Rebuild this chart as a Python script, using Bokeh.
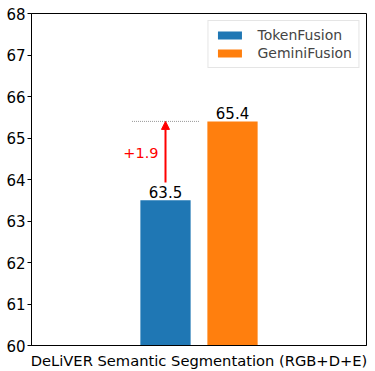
from bokeh.plotting import figure
from bokeh.models import (Range1d, FixedTicker, Arrow, NormalHead, Legend, LegendItem,
                          ColumnDataSource)
from bokeh.core.properties import value
from bokeh.embed import file_html
from bokeh.resources import INLINE

# ---- data ----
methods = ["TokenFusion", "GeminiFusion"]
scores = [63.5, 65.4]
colors = ["#1f77b4", "#ff7f0e"]
category_label = "DeLiVER Semantic Segmentation (RGB+D+E)"
gain_text = "+1.9"
y_ticks = [60, 61, 62, 63, 64, 65, 66, 67, 68]

FONT = "DejaVu Sans"
x_pos = [-0.2, 0.2]
bar_w = 0.3

p = figure(frame_width=335, frame_height=332, output_backend="svg", toolbar_location=None,
           x_range=Range1d(-1, 1), y_range=Range1d(60, 68),
           min_border_left=31, min_border_top=13, min_border_right=1, min_border_bottom=0)
p.outline_line_color = "black"
p.outline_line_width = 1
p.grid.visible = False
p.background_fill_color = "white"
p.border_fill_color = "white"

src = ColumnDataSource(dict(x=x_pos, top=scores, color=colors, name=methods,
                            lbl=[f"{v:.1f}" for v in scores]))
renderers = []
for i in range(len(methods)):
    r = p.vbar(x=[x_pos[i]], top=[scores[i]], bottom=60, width=bar_w, color=colors[i],
               line_color=None)
    renderers.append(r)

p.text(x="x", y="top", text="lbl", source=src, text_align="center", text_baseline="bottom",
       text_font=value(FONT), text_font_size="15px", text_color="black", y_offset=-2)

# dotted reference line at the higher value
p.line(x=[x_pos[0] - 0.2, 0.0], y=[scores[1], scores[1]], line_color="#999999",
       line_dash="1 1", line_width=1)

# arrow showing the gain
p.add_layout(Arrow(end=NormalHead(size=8, fill_color="red", line_color="red"),
                   x_start=x_pos[0], y_start=scores[0] + 0.43,
                   x_end=x_pos[0], y_end=scores[1],
                   line_color="red", line_width=2))
p.text(x=[x_pos[0]], y=[(scores[0] + scores[1]) / 2 + 0.18], text=[gain_text],
       text_align="right", text_baseline="middle", x_offset=-7,
       text_font=value(FONT), text_font_size="14.5px", text_color="red")

# axes
p.yaxis.ticker = FixedTicker(ticks=y_ticks)
p.yaxis.major_label_text_font = FONT
p.yaxis.major_label_text_font_size = "15px"
p.yaxis.major_label_text_color = "black"
p.yaxis.axis_line_color = "black"
p.yaxis.major_tick_line_color = "black"
p.yaxis.major_tick_out = 4
p.yaxis.major_tick_in = 0
p.yaxis.minor_tick_line_color = None
p.yaxis.major_label_standoff = 2

p.xaxis.ticker = FixedTicker(ticks=[0])
p.xaxis.major_label_overrides = {0: category_label}
p.xaxis.major_label_text_font = FONT
p.xaxis.major_label_text_font_size = "14.7px"
p.xaxis.major_label_text_color = "black"
p.xaxis.major_tick_line_color = None
p.xaxis.minor_tick_line_color = None
p.xaxis.axis_line_color = "black"
p.xaxis.major_label_standoff = 0

legend = Legend(items=[LegendItem(label=methods[i], renderers=[renderers[i]]) for i in range(2)],
                location="top_right", margin=7, padding=6, spacing=2,
                glyph_width=30, glyph_height=10, label_standoff=13, label_height=14,
                label_text_font=FONT, label_text_font_size="14px",
                border_line_color="#cccccc", border_line_width=1,
                background_fill_alpha=0.9)
p.add_layout(legend)

open("out.html", "w").write(file_html(p, INLINE))
